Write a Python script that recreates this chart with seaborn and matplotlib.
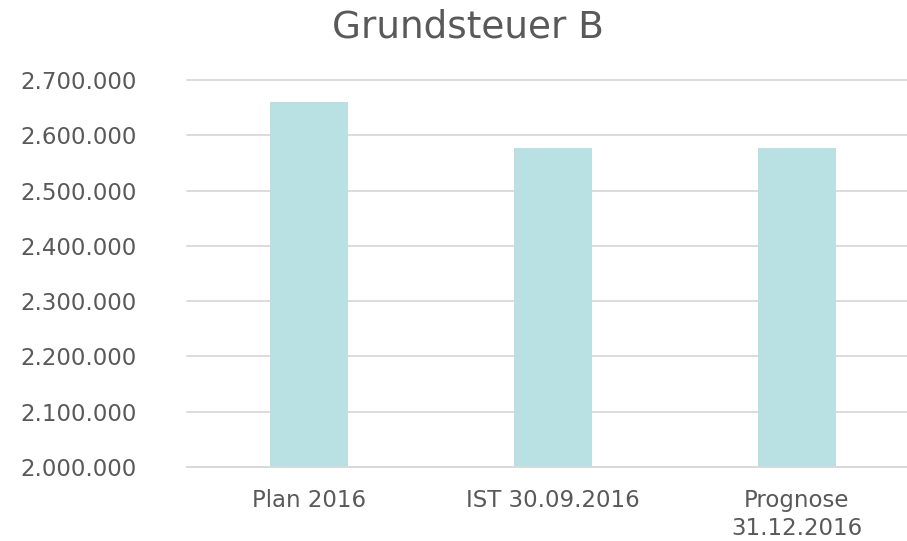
import matplotlib
matplotlib.use('Agg')
import matplotlib.pyplot as plt
import seaborn as sns
import pandas as pd
from matplotlib.ticker import FuncFormatter, MultipleLocator

categories = ['Plan 2016', 'IST 30.09.2016', 'Prognose\n31.12.2016']
values = [2660000, 2577000, 2577000]

df = pd.DataFrame({'Kategorie': categories, 'Betrag': values})

sns.set_style('white')
plt.rcParams['font.family'] = ['DejaVu Sans']
text_color = '#595959'
grid_color = '#D9D9D9'

fig = plt.figure(figsize=(9.07, 5.41), dpi=100)
ax = fig.add_axes([187 / 907, 74 / 541, 1 - 187 / 907, (467 - 80) / 541])

sns.barplot(data=df, x='Kategorie', y='Betrag', color='#B9E0E3', width=0.316,
            saturation=1, linewidth=0, ax=ax)

ax.set_ylim(2000000, 2700000)
ax.set_xlim(-0.5, -0.5 + 720 / 244)
ax.yaxis.set_major_locator(MultipleLocator(100000))
ax.yaxis.set_major_formatter(FuncFormatter(lambda v, p: f'{int(v):,}'.replace(',', '.')))
ax.grid(axis='y', color=grid_color, linewidth=1.3)
ax.set_axisbelow(True)
for gl in ax.yaxis.get_gridlines():
    gl.set_clip_on(False)
for s in ['top', 'right', 'left']:
    ax.spines[s].set_visible(False)
ax.spines['bottom'].set_color(grid_color)
ax.spines['bottom'].set_linewidth(1.3)
ax.set_xlabel('')
ax.set_ylabel('')
ax.tick_params(axis='y', length=0, pad=36, labelsize=16.5, labelcolor=text_color)
ax.tick_params(axis='x', length=0, pad=16, labelsize=16.5, labelcolor=text_color)
for lbl in ax.get_xticklabels():
    lbl.set_linespacing(1.25)

fig.text(468 / 907, 1 - 38 / 541, 'Grundsteuer B', ha='center', va='baseline',
         fontsize=26.9, color=text_color)

fig.savefig('out.png', dpi=100)
